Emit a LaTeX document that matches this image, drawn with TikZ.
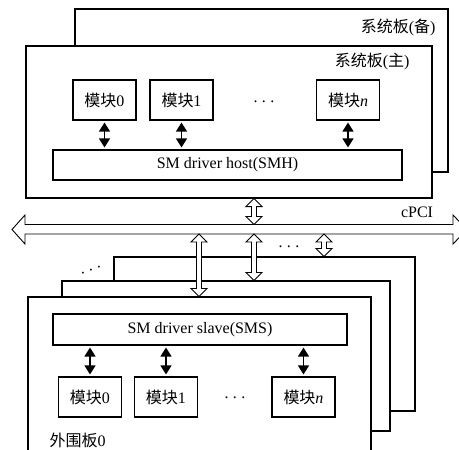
\documentclass[tikz,border=0pt]{standalone}
\usepackage{fontspec}
\setmainfont{Liberation Serif}
\newfontfamily\cjk{Noto Sans CJK SC}
\usetikzlibrary{arrows.meta,calc}
\newcommand{\zh}[1]{{\cjk #1}}
\newcommand{\spdots}{.\hspace{4.5pt}.\hspace{4.5pt}.}
% hollow two-way arrow, from the upper end #1 to the lower end #2
\newcommand{\hollowarrow}[2]{%
  \filldraw[fill=white,line width=0.9pt,line join=miter]
  let \p1=(#1), \p2=(#2) in
  (\x1,\y1) -- (\x1+8pt,\y1-8pt) -- (\x1+2.5pt,\y1-8pt) -- (\x1+2.5pt,\y2+8pt)
  -- (\x1+8pt,\y2+8pt) -- (\x1,\y2) -- (\x1-8pt,\y2+8pt) -- (\x1-2.5pt,\y2+8pt)
  -- (\x1-2.5pt,\y1-8pt) -- (\x1-8pt,\y1-8pt) -- cycle;}

\begin{document}
\begin{tikzpicture}[x=1pt,y=-1pt,
  every node/.style={font=\fontsize{16}{19}\selectfont},
  board/.style={draw,fill=white,line width=1.1pt,inner sep=0pt},
  module/.style={draw,fill=white,line width=1.1pt,minimum width=63pt,minimum height=40pt,inner sep=0pt},
  bar/.style={draw,fill=white,line width=1.1pt,inner sep=0pt},
  dotsnode/.style={inner sep=0pt},
  biarrow/.style={{Triangle[width=11pt,length=9pt]}-{Triangle[width=11pt,length=9pt]},line width=1.2pt,shorten <=2pt,shorten >=2pt}]
 \useasboundingbox (0,0) rectangle (459,450);
 % system boards
 \node[board, minimum width=373pt, minimum height=163pt] (spare) at (261.5,90.5) {};
 \node[anchor=east] (sparetxt) at (439,27) {\zh{系统板}(\zh{备})};
 \node[board, minimum width=406pt, minimum height=152pt] (main) at (229,122) {};
 \node[anchor=east] (maintxt) at (413,61) {\zh{系统板}(\zh{主})};
 \node[module] (m0) at (104.5,100) {\zh{模块}0};
 \node[module] (m1) at (181.5,100) {\zh{模块}1};
 \node[module] (mn) at (348,100) {\zh{模块}\textit{n}};
 \node[dotsnode] (mdots) at (264,102) {\spdots};
 \node[bar, minimum width=349pt, minimum height=30pt] (smh) at (227.5,165) {SM driver host(SMH)};
 \foreach \m in {m0,m1,mn}
  \draw[biarrow] (\m) -- (\m |- smh.north);
 % cPCI bus
 \coordinate (busN) at (0,224.5);
 \coordinate (busS) at (0,234);
 \filldraw[fill=white,line width=0.9pt,line join=miter] (12,229.5) -- (25,215) -- (25,224.5) -- (453,224.5)
  -- (453,215) -- (467,229.5) -- (453,244) -- (453,234) -- (25,234) -- (25,244) -- cycle;
 \node (cpci) at (417,212) {cPCI};
 \hollowarrow{main.south -| 254,0}{busN -| 254,0}
 % peripheral boards
 \node[board, minimum width=301pt, minimum height=154pt] (p2) at (264.5,334) {};
 \node[board, minimum width=328pt, minimum height=150pt] (p1) at (226,356) {};
 \node[board, minimum width=343pt, minimum height=163pt] (p0) at (199.5,378.5) {};
 \node[dotsnode, rotate=20] (pdots) at (91,270.5) {\spdots};
 \node[dotsnode] (bdots) at (289,247) {\spdots};
 \node[bar, minimum width=294pt, minimum height=31pt] (sms) at (200,329.5) {SM driver slave(SMS)};
 \node[module] (s0) at (90,397) {\zh{模块}0};
 \node[module] (s1) at (166,397) {\zh{模块}1};
 \node[module] (sn) at (303.5,397) {\zh{模块}\textit{n}};
 \node[dotsnode] (sdots) at (235,398) {\spdots};
 \foreach \m in {s0,s1,sn}
  \draw[biarrow] (sms.south -| \m) -- (\m);
 \node[anchor=west] (p0txt) at (46,440) {\zh{外围板}0};
 \hollowarrow{busS -| 199,0}{p0.north -| 199,0}
 \hollowarrow{busS -| 254,0}{p1.north -| 254,0}
 \hollowarrow{busS -| 324,0}{p2.north -| 324,0}
\end{tikzpicture}
\end{document}
